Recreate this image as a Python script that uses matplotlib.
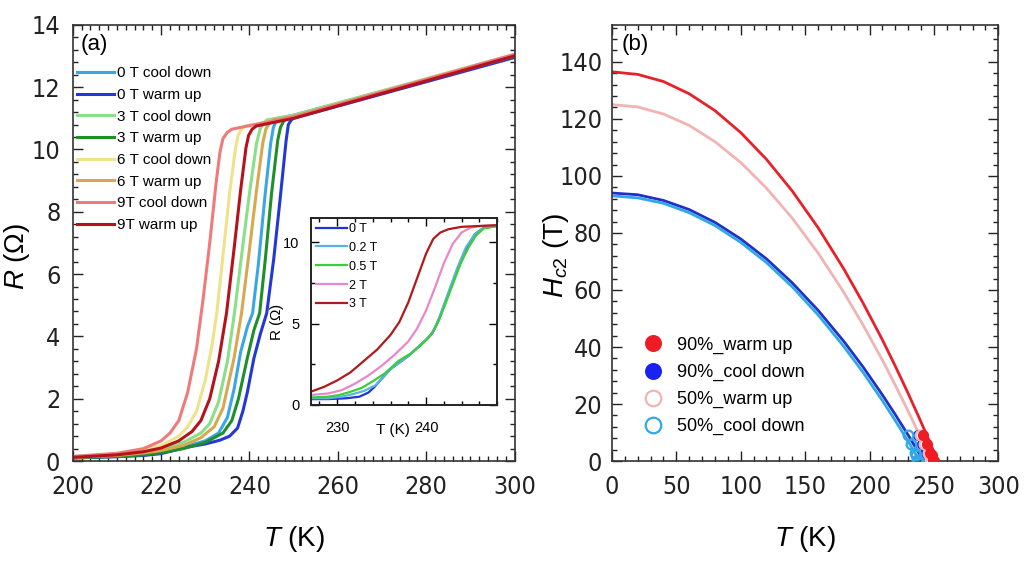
import matplotlib.pyplot as plt
from matplotlib import font_manager
from matplotlib.ticker import MultipleLocator

plt.rcParams['font.family'] = ['Liberation Sans', 'DejaVu Sans']
plt.rcParams['mathtext.fontset'] = 'custom'
plt.rcParams['mathtext.it'] = 'Liberation Sans:italic'
plt.rcParams['mathtext.rm'] = 'Liberation Sans'

# a condensed face for the big tick labels, if one is installed
narrow_file = None
for f in font_manager.fontManager.ttflist:
    if f.style != 'normal' or f.weight not in (400, 'normal', 'regular'):
        continue
    if 'Narrow' in f.name or 'Condensed' in f.name or f.stretch in ('condensed', 'semi-condensed'):
        narrow_file = f.fname
        break
tick_size = 18 if narrow_file else 16

# ---------------- panel (a): R(T) curves ----------------
labels_a = ["0 T cool down", "0 T warm up", "3 T cool down", "3 T warm up",
            "6 T cool down", "6 T warm up", "9T cool down", "9T warm up"]
colors_a = ["#3aa6e6", "#2338d6", "#88e088", "#1f8f2a",
            "#f0e28a", "#d8a850", "#f07a7a", "#b5121b"]

T_0c = [200, 210, 216, 220, 225, 230, 233, 235, 236.5, 238, 239.5, 240.7, 242, 243.5, 244.8, 245.4, 246, 247, 250, 300]
R_0c = [0.12, 0.17, 0.22, 0.3, 0.45, 0.65, 0.9, 1.4, 2.3, 3.5, 4.3, 4.75, 6.3, 8.5, 10.2, 10.7, 10.9, 11.0, 11.1, 13.0]
T_0w = [200, 210, 216, 220, 226, 230, 233.3, 235.5, 237.3, 238.5, 239.5, 241, 242.5, 243.9, 245.5, 247, 248.3, 248.8, 249.5, 250, 300]
R_0w = [0.1, 0.14, 0.18, 0.24, 0.45, 0.55, 0.67, 0.8, 1.06, 1.6, 2.2, 3.3, 4.1, 4.75, 6.5, 8.5, 10.3, 10.8, 10.95, 11.0, 12.95]
T_3c = [200, 210, 216, 220, 225, 229, 231, 233, 235, 236.6, 238.3, 240, 241.6, 242.4, 243.2, 244, 250, 300]
R_3c = [0.13, 0.2, 0.28, 0.38, 0.6, 0.9, 1.2, 1.9, 3.2, 4.75, 6.7, 8.6, 10.2, 10.65, 10.85, 10.95, 11.1, 13.05]
T_3w = [200, 210, 216, 220, 225, 230, 234, 236, 237.5, 239.5, 241, 242.3, 243.6, 245, 246.4, 247, 247.7, 248.5, 250, 300]
R_3w = [0.1, 0.15, 0.2, 0.27, 0.4, 0.6, 0.9, 1.3, 2.0, 3.3, 4.2, 4.75, 6.5, 8.6, 10.3, 10.7, 10.9, 11.0, 11.05, 13.0]
T_6c = [200, 210, 216, 220, 224, 226, 228, 230, 231.5, 232.6, 234, 235.5, 236.8, 237.4, 238.2, 239, 250, 300]
R_6c = [0.15, 0.23, 0.35, 0.5, 0.8, 1.1, 1.6, 2.6, 3.7, 4.75, 6.6, 8.6, 10.0, 10.45, 10.65, 10.75, 11.05, 13.05]
T_6w = [200, 210, 216, 220, 225, 229, 232, 234, 236.5, 238.2, 240, 241.6, 243, 243.7, 244.5, 245.5, 250, 300]
R_6w = [0.12, 0.18, 0.26, 0.34, 0.5, 0.75, 1.1, 1.7, 3.3, 4.75, 6.8, 8.7, 10.2, 10.65, 10.85, 10.95, 11.05, 13.0]
T_9c = [200, 210, 216, 220, 222, 224, 226, 228, 229.5, 231, 232.5, 233.3, 234, 235, 236, 250, 300]
R_9c = [0.15, 0.25, 0.4, 0.65, 0.9, 1.3, 2.2, 3.6, 5.2, 7.0, 9.0, 9.9, 10.35, 10.55, 10.65, 11.05, 13.05]
T_9w = [200, 210, 216, 220, 224, 227, 229, 231, 233, 234.8, 236.5, 238, 239.2, 239.8, 240.6, 241.5, 250, 300]
R_9w = [0.12, 0.2, 0.3, 0.42, 0.65, 0.95, 1.3, 2.0, 3.2, 4.75, 6.8, 8.7, 10.05, 10.45, 10.65, 10.75, 11.0, 13.0]

curves_a = [(T_0c, R_0c), (T_0w, R_0w), (T_3c, R_3c), (T_3w, R_3w),
            (T_6c, R_6c), (T_6w, R_6w), (T_9c, R_9c), (T_9w, R_9w)]

# ---------------- inset: low field curves ----------------
labels_in = ["0 T", "0.2 T", "0.5 T", "2 T", "3 T"]
colors_in = ["#2035d0", "#5ab4e0", "#3ccc3c", "#e888c8", "#b01a1a"]
Ti_00 = [227, 229, 231, 232.5, 233.5, 234.2, 235, 236, 237, 238, 239, 240, 240.7, 241.5, 242.5, 243.5, 244.5, 245.5, 246.5, 248]
Ri_00 = [0.35, 0.35, 0.4, 0.5, 0.75, 1.1, 1.6, 2.2, 2.6, 3.0, 3.5, 4.0, 4.4, 5.3, 6.8, 8.3, 9.6, 10.5, 10.9, 11.0]
Ti_02 = [227, 229, 230.5, 231.7, 233, 234.3, 235.2, 236, 237, 238, 239, 240, 240.8, 241.5, 242.5, 243.5, 244.5, 245.5, 246.5, 248]
Ri_02 = [0.4, 0.4, 0.5, 0.65, 0.85, 1.2, 1.7, 2.2, 2.6, 3.0, 3.5, 4.0, 4.5, 5.4, 6.9, 8.4, 9.7, 10.5, 10.9, 11.0]
Ti_05 = [227, 229, 230.2, 231.5, 232.8, 234, 235.4, 236.9, 238.4, 239.5, 240.4, 241.2, 242.1, 243, 243.9, 244.8, 245.6, 246.5, 248]
Ri_05 = [0.45, 0.5, 0.6, 0.8, 1.05, 1.45, 1.95, 2.7, 3.2, 3.7, 4.2, 4.9, 6.1, 7.4, 8.7, 9.7, 10.4, 10.85, 11.0]
Ti_2 = [227, 229, 230.5, 232, 233.5, 235, 236.5, 238, 239, 240, 241, 242, 243, 244, 245, 246, 248]
Ri_2 = [0.6, 0.7, 0.9, 1.3, 1.8, 2.4, 3.1, 3.9, 4.7, 5.8, 7.2, 8.7, 9.9, 10.6, 10.9, 11.0, 11.05]
Ti_3 = [227, 228.5, 230, 231.5, 233, 234.5, 236, 237, 238, 239, 240, 240.8, 241.6, 242.5, 244, 246, 248]
Ri_3 = [0.8, 1.1, 1.5, 2.0, 2.7, 3.4, 4.3, 5.1, 6.3, 7.8, 9.3, 10.2, 10.6, 10.8, 10.95, 11.0, 11.05]
curves_in = [(Ti_00, Ri_00), (Ti_02, Ri_02), (Ti_05, Ri_05), (Ti_2, Ri_2), (Ti_3, Ri_3)]

# ---------------- panel (b): Hc2(T) ----------------
Tb_90w = [0, 20, 40, 60, 80, 100, 120, 140, 160, 180, 195, 210, 220, 230, 238, 245, 250, 253]
Hb_90w = [136.5, 135.6, 133.1, 128.8, 122.9, 115.2, 105.8, 94.7, 81.9, 67.4, 55.4, 42.5, 33.3, 23.7, 15.7, 8.5, 3.2, 0]
Tb_50w = [0, 20, 40, 60, 80, 100, 120, 140, 160, 180, 195, 210, 220, 230, 238, 244, 248]
Hb_50w = [125, 124.2, 121.7, 117.7, 112.0, 104.7, 95.7, 85.2, 73.0, 59.2, 47.7, 35.4, 26.6, 17.5, 9.9, 4.0, 0]
Tb_90c = [0, 20, 40, 60, 80, 100, 120, 140, 160, 180, 195, 210, 220, 230, 236, 242]
Hb_90c = [94, 93.4, 91.4, 88.2, 83.7, 77.9, 70.9, 62.5, 52.9, 42.0, 33.0, 23.2, 16.3, 9.1, 4.6, 0]
Tb_50c = [0, 20, 40, 60, 80, 100, 120, 140, 160, 180, 195, 210, 220, 230, 235, 239]
Hb_50c = [93, 92.3, 90.4, 87.1, 82.6, 76.7, 69.6, 61.1, 51.3, 40.2, 31.1, 21.2, 14.2, 6.9, 3.1, 0]

H_pts = [0, 0.2, 0.5, 2, 3, 6, 9]
Tp_90w = [250.0, 249.8, 249.4, 248.2, 247.3, 244.5, 241.5]
Tp_90c = [246.0, 245.8, 245.4, 244.2, 243.3, 240.5, 237.5]
Tp_50w = [247.5, 247.3, 247.0, 245.8, 245.0, 242.5, 239.5]
Tp_50c = [237.5, 237.3, 236.9, 235.8, 235.0, 232.5, 229.5]

fig = plt.figure(figsize=(10.25, 5.63), dpi=100)
axa = fig.add_axes([0.071, 0.181, 0.431, 0.775])
axb = fig.add_axes([0.597, 0.181, 0.377, 0.775])


def set_narrow(t, size):
    if narrow_file:
        t.set_fontproperties(font_manager.FontProperties(fname=narrow_file, size=size))
    else:
        t.set_fontsize(size)


def style_axes(ax, xpad, ypad):
    ax.tick_params(which='both', direction='in', top=True, right=True,
                   colors='#222222', width=1.0)
    ax.tick_params(which='major', length=7, labelsize=tick_size)
    ax.tick_params(axis='x', which='major', pad=xpad)
    ax.tick_params(axis='y', which='major', pad=ypad)
    ax.tick_params(which='minor', length=3.5)
    for s in ax.spines.values():
        s.set_color('#333333')
        s.set_linewidth(1.2)
    for lab in ax.get_xticklabels() + ax.get_yticklabels():
        set_narrow(lab, tick_size)


for (T, R), c, lab in zip(curves_a, colors_a, labels_a):
    axa.plot(T, R, color=c, lw=2.2, label=lab)
axa.set_xlim(200, 300)
axa.set_ylim(0, 14)
axa.xaxis.set_major_locator(MultipleLocator(20))
axa.xaxis.set_minor_locator(MultipleLocator(2))
axa.yaxis.set_major_locator(MultipleLocator(2))
axa.yaxis.set_minor_locator(MultipleLocator(0.4))
style_axes(axa, 10, 9)
axa.set_xlabel(r"$T$ (K)", fontsize=20)
axa.set_ylabel(r"$R$ ($\Omega$)", fontsize=20)
axa.xaxis.set_label_coords(0.5, -0.145)
axa.yaxis.set_label_coords(-0.092, 0.47)
axa.text(0.018, 0.978, "(a)", transform=axa.transAxes, fontsize=16, va='top')
axa.legend(loc='upper left', bbox_to_anchor=(0.0, 0.915), frameon=False,
           fontsize=11, handlelength=2.4, handletextpad=0.2, labelspacing=0.5,
           borderpad=0, borderaxespad=0.3)

# inset
axi = fig.add_axes([0.303, 0.281, 0.182, 0.332])
for (T, R), c, lab in zip(curves_in, colors_in, labels_in):
    axi.plot(T, R, color=c, lw=1.6, label=lab)
axi.set_xlim(227, 248)
axi.set_ylim(0, 11.5)
axi.xaxis.set_major_locator(MultipleLocator(10))
axi.xaxis.set_minor_locator(MultipleLocator(2))
axi.yaxis.set_major_locator(MultipleLocator(5))
axi.yaxis.set_minor_locator(MultipleLocator(2.5))
axi.tick_params(which='both', direction='in', top=True, right=True, width=1.0)
axi.tick_params(which='major', length=6, labelsize=10.5)
axi.tick_params(axis='x', which='major', pad=12)
axi.tick_params(axis='y', which='major', pad=8)
axi.tick_params(which='minor', length=3)
for s in axi.spines.values():
    s.set_color('#222222')
    s.set_linewidth(1.4)
axi.set_xlabel("T (K)", fontsize=11)
axi.set_ylabel(r"R ($\Omega$)", fontsize=11)
axi.xaxis.set_label_coords(0.44, -0.1)
axi.yaxis.set_label_coords(-0.13, 0.44)
axi.legend(loc='upper left', frameon=False, fontsize=9, handlelength=2.5,
           handletextpad=0.2, labelspacing=0.55, borderpad=0.1, borderaxespad=0.3)

# panel (b)
axb.plot(Tb_90w, Hb_90w, color="#e8202a", lw=2.0)
axb.plot(Tb_50w, Hb_50w, color="#f0b4b4", lw=2.0)
axb.plot(Tb_90c, Hb_90c, color="#2030c8", lw=2.0)
axb.plot(Tb_50c, Hb_50c, color="#30a8e8", lw=2.0)
axb.plot(Tp_90c, H_pts, 'o', color="#1a22f0", ms=7, label="90%_cool down", zorder=3)
axb.plot(Tp_50w, H_pts, 'o', mfc='white', mec="#f0b4b4", mew=1.6, ms=7,
         label="50%_warm up", zorder=3)
axb.plot(Tp_90w, H_pts, 'o', color="#ee1c24", ms=7, label="90%_warm up", zorder=4)
axb.plot(Tp_50c, H_pts, 'o', mfc='none', mec="#30a8e8", mew=1.6, ms=7,
         label="50%_cool down", zorder=4)
axb.set_xlim(0, 300)
axb.set_ylim(0, 153)
axb.xaxis.set_major_locator(MultipleLocator(50))
axb.xaxis.set_minor_locator(MultipleLocator(10))
axb.yaxis.set_major_locator(MultipleLocator(20))
axb.yaxis.set_minor_locator(MultipleLocator(4))
style_axes(axb, 10, 7)
axb.set_xlabel(r"$T$ (K)", fontsize=20)
axb.set_ylabel(r"$H_{c2}$ (T)", fontsize=20)
axb.xaxis.set_label_coords(0.5, -0.145)
axb.yaxis.set_label_coords(-0.105, 0.47)
axb.text(0.025, 0.978, "(b)", transform=axb.transAxes, fontsize=16, va='top')

h, l = axb.get_legend_handles_labels()
order = ["90%_warm up", "90%_cool down", "50%_warm up", "50%_cool down"]
hh = [h[l.index(o)] for o in order]
axb.legend(hh, order, loc='upper left', bbox_to_anchor=(0.075, 0.285), frameon=False,
           fontsize=13, markerscale=1.6, handlelength=1.3, handletextpad=0.7,
           labelspacing=0.55, borderpad=0, borderaxespad=0)

fig.savefig("out.png", dpi=100)
